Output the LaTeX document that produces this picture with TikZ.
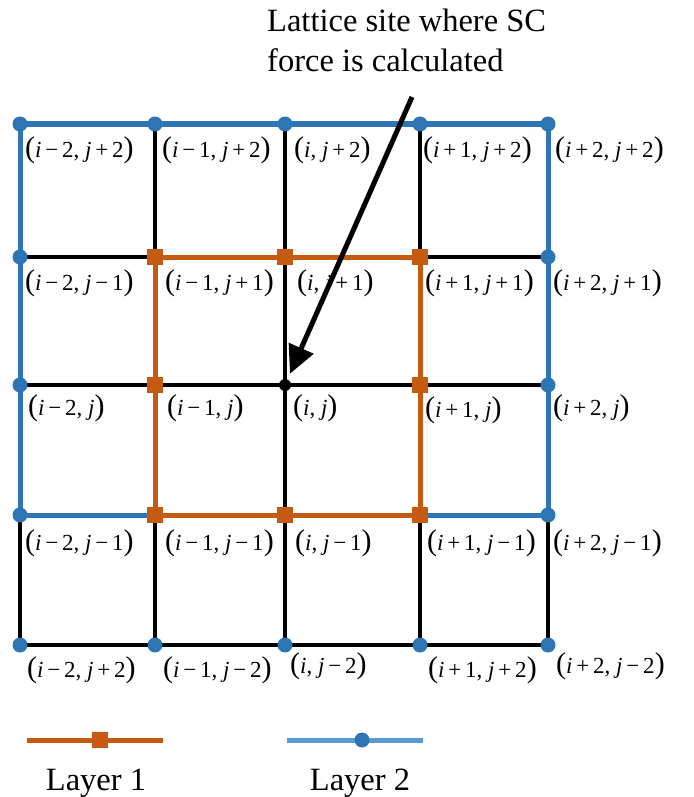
\documentclass[tikz,border=0pt]{standalone}
\usepackage{fontspec}
\setmainfont{Liberation Serif}
\usetikzlibrary{arrows.meta}
\definecolor{lblue}{HTML}{2E75B6}
\definecolor{legblue}{HTML}{5B9BD5}
\definecolor{lorange}{HTML}{C55A11}
\newcommand{\mvar}[1]{\textit{#1}}
\newcommand{\pls}{\,+\,}
\newcommand{\mns}{\,−\,}
\newcommand{\lpar}{{\fontsize{30}{30}\selectfont(}}
\newcommand{\rpar}{{\fontsize{30}{30}\selectfont)}}
\tikzset{
  gridline/.style={line width=4.5pt, black},
  bluelayer/.style={line width=5pt, lblue},
  orangelayer/.style={line width=5pt, lorange},
  bdot/.style={circle, fill=lblue, inner sep=0pt, minimum size=15pt},
  osq/.style={rectangle, fill=lorange, inner sep=0pt, minimum size=16pt},
  kdot/.style={circle, fill=black, inner sep=0pt, minimum size=12pt},
  lab/.style={anchor=west, inner sep=0pt, font=\fontsize{23}{23}\selectfont},
  bigtext/.style={inner sep=0pt, font=\fontsize{32.5}{38}\selectfont},
  arr/.style={line width=5pt, -{Triangle[length=28pt,width=26pt]}, shorten >=6pt}
}
\begin{document}
\begin{tikzpicture}[x=1pt,y=-1pt]
\useasboundingbox (0,0) rectangle (693,797);
\foreach \x [count=\i] in {20,155,285,420,548}{
  \foreach \y [count=\j] in {124,257,385,515,645}{
    \coordinate (p\i\j) at (\x,\y);
  }
}
% black grid
\draw[gridline] (p21) -- (p25);
\draw[gridline] (p31) -- (p35);
\draw[gridline] (p41) -- (p45);
\draw[gridline] (p12) -- (p52);
\draw[gridline] (p13) -- (p53);
\draw[gridline] (p14) -- (p15) -- (p55) -- (p54);
% layer 2 (blue)
\draw[bluelayer] (p11) -- (p51) -- (p54) -- (p14) -- cycle;
% layer 1 (orange)
\draw[orangelayer] (p22) -- (p42) -- (p44) -- (p24) -- cycle;
% blue dots
\foreach \n in {11,21,31,41,51,12,52,13,53,14,54,15,25,35,45,55}{
  \node[bdot] (d\n) at (p\n) {};
}
% orange squares
\foreach \n in {22,32,42,23,43,24,34,44}{
  \node[osq] (s\n) at (p\n) {};
}
\node[kdot] (center) at (p33) {};
% title and arrow
\node[bigtext, anchor=base west] (t1) at (267,32) {Lattice site where SC};
\node[bigtext, anchor=base west] (t2) at (267,72) {force is calculated};
\coordinate (astart) at (412,97);
\draw[arr] (astart) -- (center);
% labels row 1
\node[lab] (l11) at (25,150) {\lpar\mvar{i}\mns2, \mvar{j}\pls2\rpar};
\node[lab] (l21) at (162,150) {\lpar\mvar{i}\mns1, \mvar{j}\pls2\rpar};
\node[lab] (l31) at (294,150) {\lpar\mvar{i}, \mvar{j}\pls2\rpar};
\node[lab] (l41) at (423,150) {\lpar\mvar{i}\pls1, \mvar{j}\pls2\rpar};
\node[lab] (l51) at (555,150) {\lpar\mvar{i}\pls2, \mvar{j}\pls2\rpar};
% row 2
\node[lab] (l12) at (25,283) {\lpar\mvar{i}\mns2, \mvar{j}\mns1\rpar};
\node[lab] (l22) at (165,283) {\lpar\mvar{i}\mns1, \mvar{j}\pls1\rpar};
\node[lab] (l32) at (297,283) {\lpar\mvar{i}, \mvar{j}\pls1\rpar};
\node[lab] (l42) at (425,283) {\lpar\mvar{i}\pls1, \mvar{j}\pls1\rpar};
\node[lab] (l52) at (553,283) {\lpar\mvar{i}\pls2, \mvar{j}\pls1\rpar};
% row 3
\node[lab] (l13) at (28,408) {\lpar\mvar{i}\mns2, \mvar{j}\rpar};
\node[lab] (l23) at (167,408) {\lpar\mvar{i}\mns1, \mvar{j}\rpar};
\node[lab] (l33) at (293,408) {\lpar\mvar{i}, \mvar{j}\rpar};
\node[lab] (l43) at (425,410) {\lpar\mvar{i}\pls1, \mvar{j}\rpar};
\node[lab] (l53) at (553,408) {\lpar\mvar{i}\pls2, \mvar{j}\rpar};
% row 4
\node[lab] (l14) at (25,543) {\lpar\mvar{i}\mns2, \mvar{j}\mns1\rpar};
\node[lab] (l24) at (165,543) {\lpar\mvar{i}\mns1, \mvar{j}\mns1\rpar};
\node[lab] (l34) at (295,543) {\lpar\mvar{i}, \mvar{j}\mns1\rpar};
\node[lab] (l44) at (427,543) {\lpar\mvar{i}\pls1, \mvar{j}\mns1\rpar};
\node[lab] (l54) at (553,543) {\lpar\mvar{i}\pls2, \mvar{j}\mns1\rpar};
% row 5
\node[lab] (l15) at (27,670) {\lpar\mvar{i}\mns2, \mvar{j}\pls2\rpar};
\node[lab] (l25) at (163,670) {\lpar\mvar{i}\mns1, \mvar{j}\mns2\rpar};
\node[lab] (l35) at (290,666) {\lpar\mvar{i}, \mvar{j}\mns2\rpar};
\node[lab] (l45) at (428,670) {\lpar\mvar{i}\pls1, \mvar{j}\pls2\rpar};
\node[lab] (l55) at (556,666) {\lpar\mvar{i}\pls2, \mvar{j}\mns2\rpar};
% legend
\coordinate (oa) at (27,740);
\coordinate (ob) at (163,740);
\coordinate (ba) at (287,740);
\coordinate (bb) at (423,740);
\draw[orangelayer] (oa) -- (ob);
\node[osq] (om) at (100,740) {};
\draw[line width=5pt, legblue] (ba) -- (bb);
\node[bdot] (bm) at (362,740) {};
\node[bigtext, anchor=base] (lay1) at (96,790) {Layer 1};
\node[bigtext, anchor=base] (lay2) at (360,790) {Layer 2};
\end{tikzpicture}
\end{document}
